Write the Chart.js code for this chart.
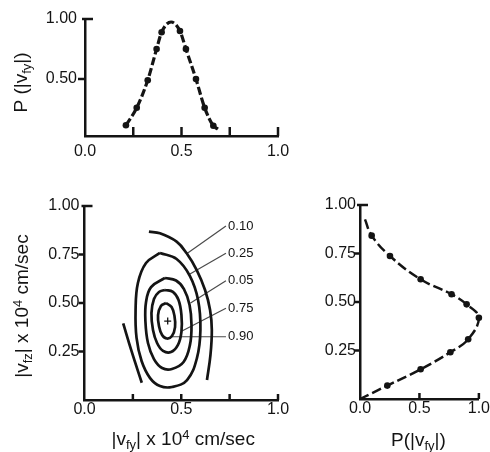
<!DOCTYPE html>
<html>
<head>
<meta charset="utf-8">
<script src="https://cdn.jsdelivr.net/npm/chart.js@4.4.1/dist/chart.umd.min.js"></script>
<style>
  html, body { margin: 0; background: #fff; }
  #wrap { position: relative; width: 490px; height: 452px; overflow: hidden; }
  canvas { position: absolute; left: 0; top: 0; }
</style>
</head>
<body>
<div id="wrap">
  <canvas id="vfy-chart" width="490" height="452"></canvas>
  <canvas id="contour-chart" width="490" height="452"></canvas>
  <canvas id="vfz-chart" width="490" height="452"></canvas>
</div>
<script>
const INK = '#141414';
const FONT = '"Liberation Sans", Arial, sans-serif';

// top panel: P(|v_fy|) against |v_fy|
const vfyDotX = [0.212, 0.268, 0.325, 0.371, 0.397, 0.492, 0.523, 0.575, 0.620, 0.665];
const vfyDotP = [0.114, 0.260, 0.490, 0.750, 0.890, 0.900, 0.750, 0.500, 0.260, 0.110];
const vfyLineX = [0.212, 0.268, 0.325, 0.371, 0.397, 0.446, 0.492, 0.523, 0.575, 0.620, 0.665, 0.689];
const vfyLineP = [0.114, 0.260, 0.490, 0.750, 0.890, 0.975, 0.900, 0.750, 0.500, 0.260, 0.110, 0.083];

// right panel: P(|v_fz|) against |v_fz|
const vfzDotZ = [0.842, 0.737, 0.617, 0.540, 0.488, 0.419, 0.308, 0.241, 0.153, 0.069];
const vfzDotP = [0.098, 0.252, 0.510, 0.770, 0.897, 1.000, 0.910, 0.760, 0.510, 0.230];
const vfzLineZ = [0.926, 0.842, 0.737, 0.617, 0.540, 0.488, 0.419, 0.308, 0.241, 0.153, 0.069, 0.000];
const vfzLineP = [0.042, 0.098, 0.252, 0.510, 0.770, 0.897, 1.000, 0.910, 0.760, 0.510, 0.230, 0.000];

// contours, [|v_fy|, |v_fz|]
const contour90 = [[0.421, 0.500], [0.450, 0.479], [0.465, 0.433], [0.468, 0.376], [0.452, 0.330], [0.426, 0.317],
  [0.401, 0.335], [0.385, 0.381], [0.380, 0.438], [0.395, 0.485], [0.421, 0.500]];
const contour75 = [[0.416, 0.567], [0.457, 0.557], [0.486, 0.515], [0.501, 0.438], [0.501, 0.351], [0.483, 0.284],
  [0.447, 0.247], [0.406, 0.253], [0.375, 0.294], [0.354, 0.361], [0.346, 0.448], [0.359, 0.521], [0.385, 0.557], [0.416, 0.567]];
const contour50 = [[0.416, 0.629], [0.473, 0.616], [0.514, 0.572], [0.543, 0.490], [0.553, 0.387], [0.545, 0.284],
  [0.512, 0.196], [0.452, 0.160], [0.401, 0.165], [0.359, 0.211], [0.328, 0.294], [0.315, 0.402], [0.318, 0.505],
  [0.344, 0.582], [0.416, 0.629]];
const contour25 = [[0.390, 0.758], [0.476, 0.727], [0.545, 0.639], [0.587, 0.515], [0.599, 0.361], [0.581, 0.216],
  [0.530, 0.103], [0.452, 0.067], [0.390, 0.072], [0.339, 0.113], [0.295, 0.201], [0.269, 0.320], [0.264, 0.464],
  [0.276, 0.603], [0.318, 0.706], [0.390, 0.758]];
const contour10 = [[0.333, 0.868], [0.390, 0.859], [0.476, 0.816], [0.528, 0.756], [0.580, 0.670], [0.623, 0.567],
  [0.649, 0.464], [0.658, 0.361], [0.651, 0.232], [0.633, 0.103]];
const contourLeft = [[0.200, 0.395], [0.244, 0.249], [0.296, 0.089]];
const peak = [[0.430, 0.407]];

const contourLabels = ['0.10', '0.25', '0.05', '0.75', '0.90'];
const contourLabelX = 0.742;
const contourLabelY = [0.897, 0.756, 0.615, 0.473, 0.326];
const leaderStartX = 0.731;
const leaderEndX = [0.528, 0.545, 0.548, 0.504, 0.452];
const leaderEndY = [0.754, 0.649, 0.500, 0.356, 0.326];

const titleVfy = [{ t: 'P (|v' }, { t: 'fy', sub: true }, { t: '|)' }];
const titleVfzAxis = [{ t: '|v' }, { t: 'fz', sub: true }, { t: '| x 10' }, { t: '4', sup: true }, { t: ' cm/sec' }];
const titleVfyAxis = [{ t: '|v' }, { t: 'fy', sub: true }, { t: '| x 10' }, { t: '4', sup: true }, { t: ' cm/sec' }];
const titleSide = [{ t: 'P(|v' }, { t: 'fy', sub: true }, { t: '|)' }];

const toXY = (pairs) => pairs.map(([x, y]) => ({ x, y }));
const zip = (xs, ys) => xs.map((x, i) => ({ x, y: ys[i] }));

function partFont(part) {
  return part.sub || part.sup ? `13px ${FONT}` : `19px ${FONT}`;
}

function drawRich(ctx, parts, x, y, angle) {
  ctx.save();
  ctx.translate(x, y);
  ctx.rotate(angle);
  ctx.fillStyle = INK;
  ctx.textAlign = 'left';
  ctx.textBaseline = 'alphabetic';
  const widths = parts.map((part) => { ctx.font = partFont(part); return ctx.measureText(part.t).width; });
  let cx = -widths.reduce((a, b) => a + b, 0) / 2;
  parts.forEach((part, i) => {
    ctx.font = partFont(part);
    ctx.fillText(part.t, cx, part.sub ? 4 : part.sup ? -6 : 0);
    cx += widths[i];
  });
  ctx.restore();
}

// inward x tick marks, outward y tick marks, rich-text titles and contour labels
const axisMarks = {
  id: 'axisMarks',
  afterDraw(chart, args, opts) {
    const { ctx, chartArea: a, scales: { x, y } } = chart;
    ctx.save();
    ctx.strokeStyle = INK;
    ctx.lineWidth = 2.5;
    (opts.x || []).forEach((v) => {
      const px = x.getPixelForValue(v);
      ctx.beginPath();
      ctx.moveTo(px, a.bottom);
      ctx.lineTo(px, a.bottom - opts.xLen);
      ctx.stroke();
    });
    (opts.y || []).forEach((v) => {
      const py = y.getPixelForValue(v);
      const top = v === y.max;
      ctx.beginPath();
      ctx.moveTo(a.left - (top ? 3 : opts.yLen), py);
      ctx.lineTo(a.left + (top ? 8 : 0), py);
      ctx.stroke();
    });
    (opts.titles || []).forEach((title) => {
      const [tx, ty] = title.at(a);
      drawRich(ctx, title.parts, tx, ty, title.angle || 0);
    });
    if (opts.labels) {
      ctx.fillStyle = INK;
      ctx.font = `13px ${FONT}`;
      ctx.textAlign = 'left';
      ctx.textBaseline = 'middle';
      opts.labels.forEach((text, i) => {
        ctx.fillText(text, x.getPixelForValue(opts.labelX), y.getPixelForValue(opts.labelY[i]));
      });
    }
    ctx.restore();
  }
};

function xAxis(values, padding, height) {
  return {
    type: 'linear',
    min: 0,
    max: 1,
    afterFit: (scale) => { scale.height = height; },
    afterBuildTicks: (scale) => { scale.ticks = values.map((value) => ({ value })); },
    grid: { display: true, drawOnChartArea: false, drawTicks: false },
    border: { display: true, color: INK, width: 2.5 },
    ticks: { color: INK, font: { family: FONT, size: 16 }, padding, maxRotation: 0, autoSkip: false, callback: (v) => v.toFixed(1) }
  };
}

function yAxis(min, values, padding, width) {
  return {
    type: 'linear',
    min,
    max: 1,
    afterFit: (scale) => { scale.width = width; },
    afterBuildTicks: (scale) => { scale.ticks = values.map((value) => ({ value })); },
    grid: { display: true, drawOnChartArea: false, drawTicks: false },
    border: { display: true, color: INK, width: 2.5 },
    ticks: { color: INK, font: { family: FONT, size: 16 }, padding, autoSkip: false, callback: (v) => v.toFixed(2) }
  };
}

function baseOptions(padding, scales, marks) {
  return {
    responsive: false,
    animation: false,
    events: [],
    layout: { padding },
    scales,
    plugins: { legend: { display: false }, tooltip: { enabled: false }, axisMarks: marks }
  };
}

function curveSet(data, width, dash) {
  return { data, showLine: true, borderColor: INK, borderWidth: width, borderDash: dash, pointRadius: 0, tension: 0.4, clip: false };
}

function dotSet(data) {
  return { data, showLine: false, pointRadius: 3.3, backgroundColor: INK, borderColor: INK, borderWidth: 0, clip: false };
}

new Chart(document.getElementById('vfy-chart'), {
  type: 'scatter',
  data: {
    datasets: [
      { ...curveSet(zip(vfyLineX, vfyLineP), 3.2, [8, 3]), cubicInterpolationMode: 'monotone' },
      dotSet(zip(vfyDotX, vfyDotP))
    ]
  },
  options: baseOptions(
    { left: 0, right: 212, top: 19, bottom: 286 },
    { x: xAxis([0, 0.5, 1], 6, 30), y: yAxis(0.025, [0.5, 1], 8, 85) },
    { x: [0.25, 0.5, 0.75, 1], xLen: 9, y: [0.5, 1], yLen: 7,
      titles: [{ parts: titleVfy, angle: -Math.PI / 2, at: (a) => [a.left - 58, (a.top + a.bottom) / 2 + 5] }] }
  ),
  plugins: [axisMarks]
});

const contourSets = [contour90, contour75, contour50, contour25, contour10, contourLeft]
  .map((pairs) => curveSet(toXY(pairs), 2.7, []));
const leaderSets = contourLabelY.map((ly, i) => ({
  data: [{ x: leaderStartX, y: ly }, { x: leaderEndX[i], y: leaderEndY[i] }],
  showLine: true, borderColor: '#4a4a4a', borderWidth: 1.2, pointRadius: 0, clip: false
}));

new Chart(document.getElementById('contour-chart'), {
  type: 'scatter',
  data: {
    datasets: [
      ...contourSets,
      ...leaderSets,
      { data: toXY(peak), pointStyle: 'cross', pointRadius: 3.5, borderColor: INK, borderWidth: 1.3 }
    ]
  },
  options: baseOptions(
    { left: 0, right: 212, top: 206, bottom: 22 },
    { x: xAxis([0, 0.5, 1], 0, 30), y: yAxis(0, [0.25, 0.5, 0.75, 1], 5, 84.5) },
    { x: [0.25, 0.5, 0.75, 1], xLen: 6, y: [0.25, 0.5, 0.75, 1], yLen: 6,
      labels: contourLabels, labelX: contourLabelX, labelY: contourLabelY,
      titles: [
        { parts: titleVfzAxis, angle: -Math.PI / 2, at: (a) => [a.left - 56.5, (a.top + a.bottom) / 2 + 3] },
        { parts: titleVfyAxis, at: (a) => [(a.left + a.right) / 2 + 2, a.bottom + 45] }
      ] }
  ),
  plugins: [axisMarks]
});

new Chart(document.getElementById('vfz-chart'), {
  type: 'scatter',
  data: {
    datasets: [
      curveSet(zip(vfzLineP, vfzLineZ), 2.5, [10, 4]),
      dotSet(zip(vfzDotP, vfzDotZ))
    ]
  },
  options: baseOptions(
    { left: 300, right: 11, top: 205, bottom: 23 },
    { x: xAxis([0, 0.5, 1], 0, 30), y: yAxis(0, [0.25, 0.5, 0.75, 1], 4, 60) },
    { x: [0.5, 1], xLen: 6, y: [0.25, 0.5, 0.75, 1], yLen: 6,
      titles: [{ parts: titleSide, at: (a) => [(a.left + a.right) / 2 - 1, a.bottom + 47] }] }
  ),
  plugins: [axisMarks]
});
</script>
</body>
</html>
